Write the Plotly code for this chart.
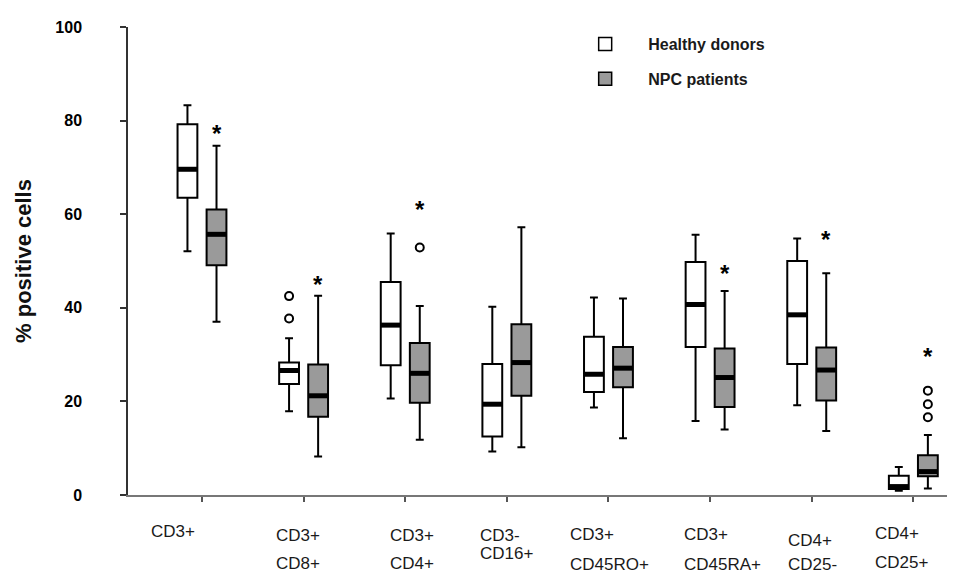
import plotly.graph_objects as go

# ---------------- data ----------------
label_line1 = ["CD3+", "CD3+", "CD3+", "CD3-", "CD3+", "CD3+", "CD4+", "CD4+"]
label_line2 = ["", "CD8+", "CD4+", "CD16+", "CD45RO+", "CD45RA+", "CD25-", "CD25+"]

healthy_upper = [83.3, 33.5, 55.9, 40.2, 42.2, 55.6, 54.8, 6.0]
healthy_q3 = [79.2, 28.3, 45.5, 28.0, 33.8, 49.8, 50.0, 4.1]
healthy_median = [69.6, 26.6, 36.3, 19.4, 25.8, 40.7, 38.5, 1.8]
healthy_q1 = [63.5, 23.7, 27.7, 12.5, 22.0, 31.6, 28.0, 1.3]
healthy_lower = [52.1, 17.9, 20.6, 9.3, 18.7, 15.8, 19.2, 0.9]
healthy_outlier_group = [1, 1]
healthy_outlier_value = [42.5, 37.7]

npc_upper = [74.6, 42.6, 40.4, 57.2, 42.0, 43.6, 47.4, 12.8]
npc_q3 = [61.0, 27.9, 32.5, 36.5, 31.6, 31.3, 31.5, 8.5]
npc_median = [55.7, 21.2, 26.0, 28.3, 27.1, 25.1, 26.7, 5.0]
npc_q1 = [49.1, 16.7, 19.7, 21.2, 23.0, 18.8, 20.2, 4.0]
npc_lower = [37.0, 8.2, 11.8, 10.2, 12.1, 14.0, 13.7, 1.4]
npc_outlier_group = [2, 7, 7, 7]
npc_outlier_value = [52.9, 22.3, 19.4, 16.6]

star_group = [0, 1, 2, 5, 6, 7]
star_value = [78.4, 46.1, 62.0, 48.4, 55.6, 30.6]

y_ticks = [0, 20, 40, 60, 80, 100]

# ---------------- layout helpers ----------------
OFFSET = 0.143      # half distance between paired boxes (category units)
BOXW = 0.195        # box width (category units)
label_dx = [-53, -30, -17, -29, -40, -28, -26, -40]     # px, left edge vs tick
line1_dy = [-36, -40, -40, -40, -39, -39, -45, -38]     # px below x axis
line2_dy = [0, -68, -68, -58, -69, -69, -69, -67]

GREY = "#9a9a9a"
SANS = "Liberation Sans, Arial, sans-serif"

n = len(label_line1)
xs_h = [i - OFFSET for i in range(n)]
xs_n = [i + OFFSET for i in range(n)]

fig = go.Figure()

common = dict(boxpoints=False, width=BOXW, whiskerwidth=0.4,
              line=dict(color="black", width=2), showlegend=False,
              hoverinfo="skip")
fig.add_trace(go.Box(x=xs_h, q1=healthy_q1, median=healthy_median, q3=healthy_q3,
                     lowerfence=healthy_lower, upperfence=healthy_upper,
                     fillcolor="white", name="Healthy donors", **common))
fig.add_trace(go.Box(x=xs_n, q1=npc_q1, median=npc_median, q3=npc_q3,
                     lowerfence=npc_lower, upperfence=npc_upper,
                     fillcolor=GREY, name="NPC patients", **common))

# thick median bars
def median_segments(xs, meds):
    sx, sy = [], []
    for x, m in zip(xs, meds):
        sx += [x - BOXW / 2, x + BOXW / 2, None]
        sy += [m, m, None]
    return sx, sy

for xs, meds in ((xs_h, healthy_median), (xs_n, npc_median)):
    sx, sy = median_segments(xs, meds)
    fig.add_trace(go.Scatter(x=sx, y=sy, mode="lines",
                             line=dict(color="black", width=5),
                             showlegend=False, hoverinfo="skip"))

# outliers
fig.add_trace(go.Scatter(x=[g - OFFSET for g in healthy_outlier_group], y=healthy_outlier_value,
                         mode="markers", showlegend=False,
                         marker=dict(symbol="circle-open", size=8, color="black",
                                     line=dict(width=2, color="black"))))
fig.add_trace(go.Scatter(x=[g + OFFSET for g in npc_outlier_group], y=npc_outlier_value,
                         mode="markers", showlegend=False,
                         marker=dict(symbol="circle-open", size=8, color="black",
                                     line=dict(width=2, color="black"))))

# legend entries
fig.add_trace(go.Scatter(x=[None], y=[None], mode="markers", name="Healthy donors",
                         legendgroup="h",
                         marker=dict(symbol="square", size=13, color="white",
                                     line=dict(color="black", width=1.5))))
fig.add_trace(go.Scatter(x=[None], y=[None], mode="markers", name="NPC patients",
                         legendgroup="n",
                         marker=dict(symbol="square", size=13, color=GREY,
                                     line=dict(color="black", width=1.5))))

annotations = []
for g, v in zip(star_group, star_value):
    annotations.append(dict(x=g + OFFSET, y=v, xref="x", yref="y", text="<b>*</b>",
                            showarrow=False, yshift=-5,
                            font=dict(family=SANS, size=24, color="black")))
for i in range(n):
    for txt, dy in ((label_line1[i], line1_dy[i]), (label_line2[i], line2_dy[i])):
        if not txt:
            continue
        annotations.append(dict(x=i, y=0, xref="x", yref="paper", text=txt,
                                showarrow=False, xanchor="left", yanchor="middle",
                                xshift=label_dx[i], yshift=dy,
                                font=dict(family=SANS, size=17, color="#1a1a1a")))

fig.update_layout(
    width=947, height=566,
    margin=dict(l=120, r=0, t=19, b=79),
    paper_bgcolor="white", plot_bgcolor="white",
    annotations=annotations,
    legend=dict(x=0.525, y=1.0, xanchor="left", yanchor="top",
                font=dict(family=SANS, size=16, color="#1a1a1a", weight="bold"),
                itemwidth=76, tracegroupgap=11, bgcolor="rgba(0,0,0,0)"),
    xaxis=dict(range=[-0.728, 7.41], tickvals=list(range(n)), showticklabels=False,
               ticks="outside", ticklen=5, tickwidth=2, tickcolor="#555555",
               showline=True, linecolor="#777777", linewidth=1.5,
               showgrid=False, zeroline=False),
    yaxis=dict(range=[0, 100], tickvals=y_ticks, ticks="outside", ticklen=6,
               tickwidth=1.5, tickcolor="#333333", showline=True,
               linecolor="#333333", linewidth=1.5, showgrid=False, zeroline=False,
               ticklabelstandoff=35,
               tickfont=dict(family=SANS, size=16, color="black", weight="bold"),
               title=dict(text="<b>% positive cells</b>", standoff=18,
                          font=dict(family=SANS, size=22, color="#111111"))),
)

fig.write_html("out.html")
